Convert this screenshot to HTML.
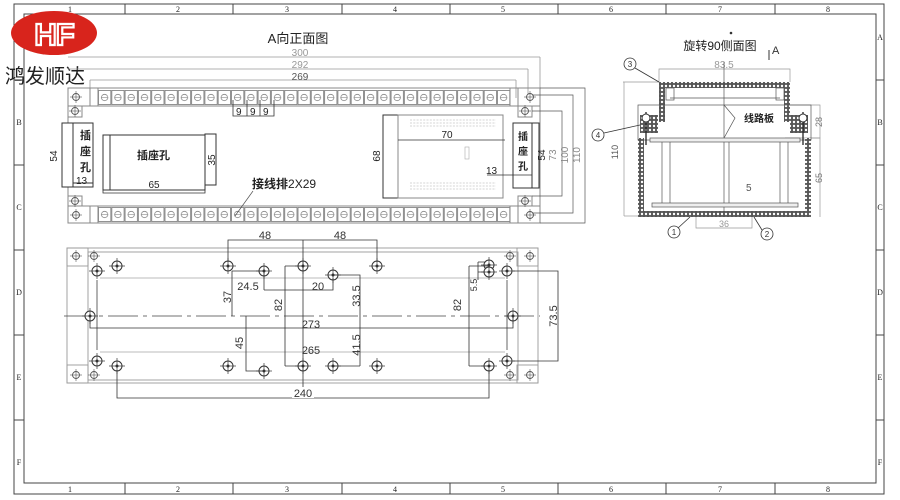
<!DOCTYPE html>
<html><head><meta charset="utf-8"><style>
html,body{margin:0;padding:0;background:#fff;}
svg{display:block;font-family:"Liberation Sans","Noto Sans CJK SC",sans-serif;}
</style></head><body>
<svg width="900" height="500" viewBox="0 0 900 500" xmlns="http://www.w3.org/2000/svg">
<defs>
<pattern id="cell" x="98" y="90" width="13.3" height="15" patternUnits="userSpaceOnUse">
<rect x="0.5" y="0.5" width="12.3" height="14" fill="none" stroke="#777" stroke-width="0.8"/>
<circle cx="6.6" cy="7.5" r="3.2" fill="none" stroke="#888" stroke-width="0.8"/>
<line x1="3" y1="7.5" x2="10" y2="7.5" stroke="#888" stroke-width="0.6"/>
</pattern>
<pattern id="cell2" x="98" y="207" width="13.3" height="15" patternUnits="userSpaceOnUse">
<rect x="0.5" y="0.5" width="12.3" height="14" fill="none" stroke="#777" stroke-width="0.8"/>
<circle cx="6.6" cy="7.5" r="3.2" fill="none" stroke="#888" stroke-width="0.8"/>
<line x1="3" y1="7.5" x2="10" y2="7.5" stroke="#888" stroke-width="0.6"/>
</pattern>
<pattern id="hatch" width="4" height="4" patternUnits="userSpaceOnUse">
<rect width="4" height="4" fill="#555"/><circle cx="2" cy="2" r="1.2" fill="#fff"/>
</pattern>
<g id="hole"><circle r="5" fill="#fff" stroke="#333" stroke-width="1"/><circle r="1.5" fill="#333"/><line x1="-8" y1="0" x2="8" y2="0" stroke="#333" stroke-width="0.7"/><line x1="0" y1="-8" x2="0" y2="8" stroke="#333" stroke-width="0.7"/></g>
<g id="shole"><circle r="3.5" fill="#fff" stroke="#555" stroke-width="0.9"/><line x1="-6" y1="0" x2="6" y2="0" stroke="#555" stroke-width="0.6"/><line x1="0" y1="-6" x2="0" y2="6" stroke="#555" stroke-width="0.6"/></g>
</defs>

<!-- frame -->
<g fill="none" stroke="#444" stroke-width="1">
<rect x="14" y="4" width="870" height="490"/>
<rect x="24" y="14" width="852" height="469"/>
<line x1="125" y1="4" x2="125" y2="14"/><line x1="233" y1="4" x2="233" y2="14"/><line x1="342" y1="4" x2="342" y2="14"/><line x1="450" y1="4" x2="450" y2="14"/><line x1="558" y1="4" x2="558" y2="14"/><line x1="666" y1="4" x2="666" y2="14"/><line x1="775" y1="4" x2="775" y2="14"/>
<line x1="125" y1="483" x2="125" y2="494"/><line x1="233" y1="483" x2="233" y2="494"/><line x1="342" y1="483" x2="342" y2="494"/><line x1="450" y1="483" x2="450" y2="494"/><line x1="558" y1="483" x2="558" y2="494"/><line x1="666" y1="483" x2="666" y2="494"/><line x1="775" y1="483" x2="775" y2="494"/>
<line x1="14" y1="80" x2="24" y2="80"/><line x1="14" y1="165" x2="24" y2="165"/><line x1="14" y1="250" x2="24" y2="250"/><line x1="14" y1="335" x2="24" y2="335"/><line x1="14" y1="420" x2="24" y2="420"/>
<line x1="876" y1="80" x2="884" y2="80"/><line x1="876" y1="165" x2="884" y2="165"/><line x1="876" y1="250" x2="884" y2="250"/><line x1="876" y1="335" x2="884" y2="335"/><line x1="876" y1="420" x2="884" y2="420"/>
</g>
<g font-size="8" fill="#222" text-anchor="middle" font-family="Liberation Serif,serif">
<text x="70" y="12">1</text><text x="178" y="12">2</text><text x="287" y="12">3</text><text x="395" y="12">4</text><text x="503" y="12">5</text><text x="611" y="12">6</text><text x="720" y="12">7</text><text x="828" y="12">8</text>
<text x="70" y="492">1</text><text x="178" y="492">2</text><text x="287" y="492">3</text><text x="395" y="492">4</text><text x="503" y="492">5</text><text x="611" y="492">6</text><text x="720" y="492">7</text><text x="828" y="492">8</text>
<text x="19" y="40">A</text><text x="19" y="125">B</text><text x="19" y="210">C</text><text x="19" y="295">D</text><text x="19" y="380">E</text><text x="19" y="465">F</text>
<text x="880" y="40">A</text><text x="880" y="125">B</text><text x="880" y="210">C</text><text x="880" y="295">D</text><text x="880" y="380">E</text><text x="880" y="465">F</text>
</g>

<!-- logo -->
<ellipse cx="54" cy="33" rx="43" ry="22" fill="#d8241c"/>
<text x="54" y="45" font-size="31" font-weight="bold" fill="none" stroke="#fff" stroke-width="2.2" text-anchor="middle" letter-spacing="-1">HF</text>
<text x="5" y="83" font-size="20" fill="#222" font-family="Liberation Sans,Noto Sans CJK SC,sans-serif">鸿发顺达</text>

<!-- A front view -->
<text x="298" y="43" font-size="13" fill="#222" text-anchor="middle">A向正面图</text>
<g stroke="#999" stroke-width="0.8" fill="none">
<line x1="68" y1="57" x2="540" y2="57"/><line x1="68" y1="69" x2="528" y2="69"/><line x1="90" y1="80" x2="516" y2="80"/>
<line x1="540" y1="57" x2="540" y2="88"/><line x1="528" y1="69" x2="528" y2="100"/><line x1="516" y1="80" x2="516" y2="98"/><line x1="90" y1="80" x2="90" y2="98"/>
</g>
<g font-size="10" fill="#999" text-anchor="middle"><text x="300" y="56">300</text><text x="300" y="68">292</text><text x="300" y="80" fill="#555">269</text></g>
<!-- top strip -->
<rect x="68" y="88" width="472" height="18" fill="none" stroke="#888"/>
<rect x="98" y="90" width="412" height="15" fill="url(#cell)"/>
<line x1="90" y1="88" x2="90" y2="106" stroke="#888"/><line x1="98" y1="88" x2="98" y2="106" stroke="#888"/>
<line x1="510" y1="88" x2="510" y2="106" stroke="#888"/><line x1="518" y1="88" x2="518" y2="106" stroke="#888"/>
<use href="#shole" x="76" y="97"/><use href="#shole" x="530" y="97"/>
<rect x="68" y="106" width="14" height="11" fill="none" stroke="#888"/><rect x="518" y="106" width="14" height="11" fill="none" stroke="#888"/>
<use href="#shole" x="75" y="111"/><use href="#shole" x="525" y="111"/>
<!-- bottom strip -->
<rect x="68" y="206" width="472" height="17" fill="none" stroke="#888"/>
<rect x="98" y="207" width="412" height="15" fill="url(#cell2)"/>
<line x1="90" y1="206" x2="90" y2="223" stroke="#888"/><line x1="98" y1="206" x2="98" y2="223" stroke="#888"/>
<line x1="510" y1="206" x2="510" y2="223" stroke="#888"/><line x1="518" y1="206" x2="518" y2="223" stroke="#888"/>
<use href="#shole" x="76" y="215"/><use href="#shole" x="530" y="215"/>
<rect x="68" y="196" width="14" height="10" fill="none" stroke="#888"/><rect x="518" y="196" width="14" height="10" fill="none" stroke="#888"/>
<use href="#shole" x="75" y="201"/><use href="#shole" x="525" y="201"/>
<line x1="68" y1="88" x2="68" y2="223" stroke="#888"/><line x1="540" y1="88" x2="540" y2="223" stroke="#888"/>
<!-- 9 9 9 -->
<g stroke="#333" stroke-width="0.8" fill="none"><path d="M233 100V116H274V100M247 100V116M260 100V116"/></g>
<g font-size="10" fill="#222"><text x="236" y="115">9</text><text x="250" y="115">9</text><text x="263" y="115">9</text></g>
<!-- left socket -->
<g stroke="#333" stroke-width="1" fill="#fff">
<rect x="62" y="123" width="31" height="64"/><line x1="73" y1="123" x2="73" y2="187"/>
<rect x="103" y="135" width="102" height="55"/><rect x="205" y="134" width="11" height="51"/>
<line x1="110" y1="135" x2="110" y2="190"/>
</g>
<path d="M73 183H93" stroke="#333"/>
<text x="80" y="139" font-size="11" fill="#222" font-weight="bold">插</text><text x="80" y="155" font-size="11" fill="#222" font-weight="bold">座</text><text x="80" y="171" font-size="11" fill="#222" font-weight="bold">孔</text>
<text x="137" y="159" font-size="11" fill="#222" font-weight="bold">插座孔</text>
<text x="76" y="184" font-size="10" fill="#222">13</text>
<text x="57" y="156" font-size="10" fill="#222" transform="rotate(-90 57 156)" text-anchor="middle">54</text>
<path d="M103 190V193H205V190" stroke="#333" fill="none" stroke-width="0.8"/>
<text x="154" y="188" font-size="10" fill="#222" text-anchor="middle">65</text>
<text x="215" y="160" font-size="10" fill="#222" transform="rotate(-90 215 160)" text-anchor="middle">35</text>
<text x="252" y="188" font-size="12" fill="#222" font-weight="bold">接线排<tspan font-weight="normal">2X29</tspan></text>
<line x1="253" y1="191" x2="235" y2="216" stroke="#555" stroke-width="0.7"/>
<!-- right block -->
<g stroke="#333" fill="none">
<rect x="383" y="115" width="15" height="83"/><rect x="398" y="115" width="105" height="83" stroke="#888"/>
<line x1="398" y1="140" x2="505" y2="140" stroke-width="0.8"/>
<rect x="513" y="123" width="26" height="65"/><line x1="532" y1="123" x2="532" y2="188"/>
<line x1="487" y1="175" x2="532" y2="175" stroke-width="0.8"/>
</g>
<g fill="none" stroke="#aaa" stroke-width="0.6">
<path d="M410 120h86M410 123h86M410 126h86M410 183h86M410 186h86M410 189h86" stroke-dasharray="2 1.3"/>
<rect x="465" y="147" width="4" height="12"/>
</g>
<text x="447" y="138" font-size="10" fill="#222" text-anchor="middle">70</text>
<text x="380" y="156" font-size="10" fill="#222" transform="rotate(-90 380 156)" text-anchor="middle">68</text>
<text x="518" y="140" font-size="10" fill="#222" font-weight="bold">插</text><text x="518" y="155" font-size="10" fill="#222" font-weight="bold">座</text><text x="518" y="170" font-size="10" fill="#222" font-weight="bold">孔</text>
<text x="486" y="174" font-size="10" fill="#222">13</text>
<g stroke="#555" stroke-width="0.7" fill="none">
<path d="M532 111H562V196H532"/><path d="M532 95H573V213H532"/><path d="M540 88H585V223H540"/>
</g>
<g font-size="10" fill="#888" text-anchor="middle">
<text x="545" y="155" fill="#222" transform="rotate(-90 545 155)">54</text>
<text x="556" y="155" transform="rotate(-90 556 155)">73</text>
<text x="568" y="155" transform="rotate(-90 568 155)">100</text>
<text x="580" y="155" transform="rotate(-90 580 155)">110</text>
</g>

<!-- side view -->
<text x="720" y="50" font-size="12" fill="#222" text-anchor="middle">旋转90侧面图</text>
<circle cx="731" cy="33" r="1.3" fill="#333"/>
<text x="772" y="54" font-size="11" fill="#333">A</text><line x1="769" y1="50" x2="769" y2="60" stroke="#333"/>
<g stroke="#999" stroke-width="0.7" fill="none">
<path d="M659 82V69H790V82"/><line x1="623" y1="82" x2="659" y2="82"/><path d="M624 82V216"/><line x1="624" y1="216" x2="640" y2="216"/>
<path d="M785 105H820V138H785"/><path d="M810 138H820V217"/>
<path d="M696 216V228H752V216"/>
</g>
<text x="724" y="68" font-size="10" fill="#999" text-anchor="middle">83.5</text>
<text x="618" y="152" font-size="9" fill="#555" transform="rotate(-90 618 152)" text-anchor="middle">110</text>
<text x="822" y="122" font-size="9" fill="#777" transform="rotate(-90 822 122)" text-anchor="middle">28</text>
<text x="822" y="178" font-size="9" fill="#777" transform="rotate(-90 822 178)" text-anchor="middle">65</text>
<text x="724" y="227" font-size="9" fill="#999" text-anchor="middle">36</text>
<text x="746" y="191" font-size="10" fill="#555">5</text>
<!-- walls -->
<g fill="url(#hatch)">
<rect x="659" y="82" width="131" height="6"/>
<rect x="659" y="82" width="6" height="40"/><rect x="784" y="82" width="6" height="40"/>
<rect x="638" y="138" width="6" height="79"/><rect x="805" y="138" width="6" height="79"/>
<rect x="638" y="211" width="173" height="6"/>
<rect x="640" y="115" width="18" height="18"/><rect x="790" y="115" width="18" height="18"/>
</g>
<g stroke="#555" stroke-width="0.7" fill="none">
<rect x="638" y="105" width="173" height="35"/>
<line x1="662" y1="139" x2="662" y2="207"/><line x1="670" y1="139" x2="670" y2="207"/><line x1="724" y1="62" x2="724" y2="212"/><line x1="729" y1="139" x2="729" y2="207"/><line x1="780" y1="139" x2="780" y2="207"/><line x1="788" y1="139" x2="788" y2="207"/>
<rect x="650" y="138" width="150" height="4" fill="#eee"/>
<rect x="652" y="203" width="146" height="4" fill="#eee"/>
<line x1="670" y1="98" x2="780" y2="98"/>
<rect x="666" y="88" width="8" height="12"/><rect x="776" y="88" width="8" height="12"/>
<path d="M724 105L735 118L724 138" />
<line x1="646" y1="112" x2="646" y2="145" stroke="#222" stroke-width="1.3"/><line x1="803" y1="112" x2="803" y2="145" stroke="#222" stroke-width="1.3"/>
</g>
<circle cx="646" cy="118" r="4" fill="#fff" stroke="#333"/><circle cx="803" cy="118" r="4" fill="#fff" stroke="#333"/>
<text x="744" y="122" font-size="10" fill="#222" font-weight="bold">线路板</text>
<g fill="none" stroke="#333" stroke-width="0.8">
<circle cx="630" cy="64" r="6"/><line x1="635" y1="68" x2="659" y2="82"/>
<circle cx="598" cy="135" r="6"/><line x1="604" y1="133" x2="640" y2="125"/>
<circle cx="674" cy="232" r="6"/><line x1="678" y1="228" x2="690" y2="217"/>
<circle cx="767" cy="234" r="6"/><line x1="762" y1="230" x2="754" y2="217"/>
</g>
<g font-size="8" fill="#333" text-anchor="middle"><text x="630" y="67">3</text><text x="598" y="138">4</text><text x="674" y="235">1</text><text x="767" y="237">2</text></g>

<!-- bottom view -->
<g stroke="#999" stroke-width="0.9" fill="none">
<rect x="67" y="248" width="471" height="135"/>
<rect x="88" y="252" width="430" height="128"/>
<rect x="67" y="248" width="21" height="18"/><rect x="67" y="365" width="21" height="18"/>
<rect x="517" y="248" width="21" height="18"/><rect x="517" y="365" width="21" height="18"/>
<path d="M97 280V350M507 280V350" stroke="#555"/>
<path d="M100 352H505M100 278H505" stroke="#bbb"/>
</g>
<line x1="64" y1="316" x2="540" y2="316" stroke="#444" stroke-width="0.8" stroke-dasharray="30 5 4 5"/>
<use href="#shole" x="76" y="256"/><use href="#shole" x="76" y="375"/><use href="#shole" x="530" y="256"/><use href="#shole" x="530" y="375"/>
<use href="#shole" x="94" y="256"/><use href="#shole" x="94" y="375"/><use href="#shole" x="510" y="256"/><use href="#shole" x="510" y="375"/>
<use href="#hole" x="97" y="271"/><use href="#hole" x="117" y="266"/><use href="#hole" x="228" y="266"/><use href="#hole" x="264" y="271"/><use href="#hole" x="303" y="266"/><use href="#hole" x="333" y="275"/><use href="#hole" x="377" y="266"/><use href="#hole" x="489" y="265"/><use href="#hole" x="489" y="272"/><use href="#hole" x="507" y="271"/>
<use href="#hole" x="90" y="316"/><use href="#hole" x="513" y="316"/>
<use href="#hole" x="97" y="361"/><use href="#hole" x="117" y="366"/><use href="#hole" x="228" y="366"/><use href="#hole" x="264" y="371"/><use href="#hole" x="303" y="366"/><use href="#hole" x="333" y="366"/><use href="#hole" x="377" y="366"/><use href="#hole" x="489" y="366"/><use href="#hole" x="507" y="361"/>
<g stroke="#333" stroke-width="0.8" fill="none">
<path d="M228 262V240H377V262M303 240V398"/>
<path d="M232 271V316M232 271H264V290M264 290H333V278"/>
<path d="M285 266V366M285 266H303M285 366H303"/>
<path d="M333 275H360V366M360 366H333"/>
<path d="M246 316V371H264"/>
<path d="M90 316V328H513V316"/>
<path d="M117 370V398H489V370"/>
<path d="M469 266V366M469 266H489M469 366H489"/>
<path d="M478 262V280M478 262H485M478 272H485"/>
<path d="M513 271H558V361H513"/>
</g>
<rect x="292" y="387" width="22" height="11" fill="#fff"/>
<g font-size="11" fill="#333" text-anchor="middle">
<text x="265" y="239">48</text><text x="340" y="239">48</text>
<text x="248" y="290">24.5</text><text x="318" y="290">20</text>
<text x="311" y="328">273</text><text x="311" y="354">265</text><text x="303" y="397">240</text>
<text x="231" y="297" transform="rotate(-90 231 297)">37</text>
<text x="282" y="305" transform="rotate(-90 282 305)">82</text>
<text x="360" y="296" transform="rotate(-90 360 296)">33.5</text>
<text x="243" y="343" transform="rotate(-90 243 343)">45</text>
<text x="360" y="345" transform="rotate(-90 360 345)">41.5</text>
<text x="461" y="305" transform="rotate(-90 461 305)">82</text>
<text x="477" y="285" font-size="9" transform="rotate(-90 477 285)">5.5</text>
<text x="557" y="316" transform="rotate(-90 557 316)">73.5</text>
</g>
</svg>
</body></html>
